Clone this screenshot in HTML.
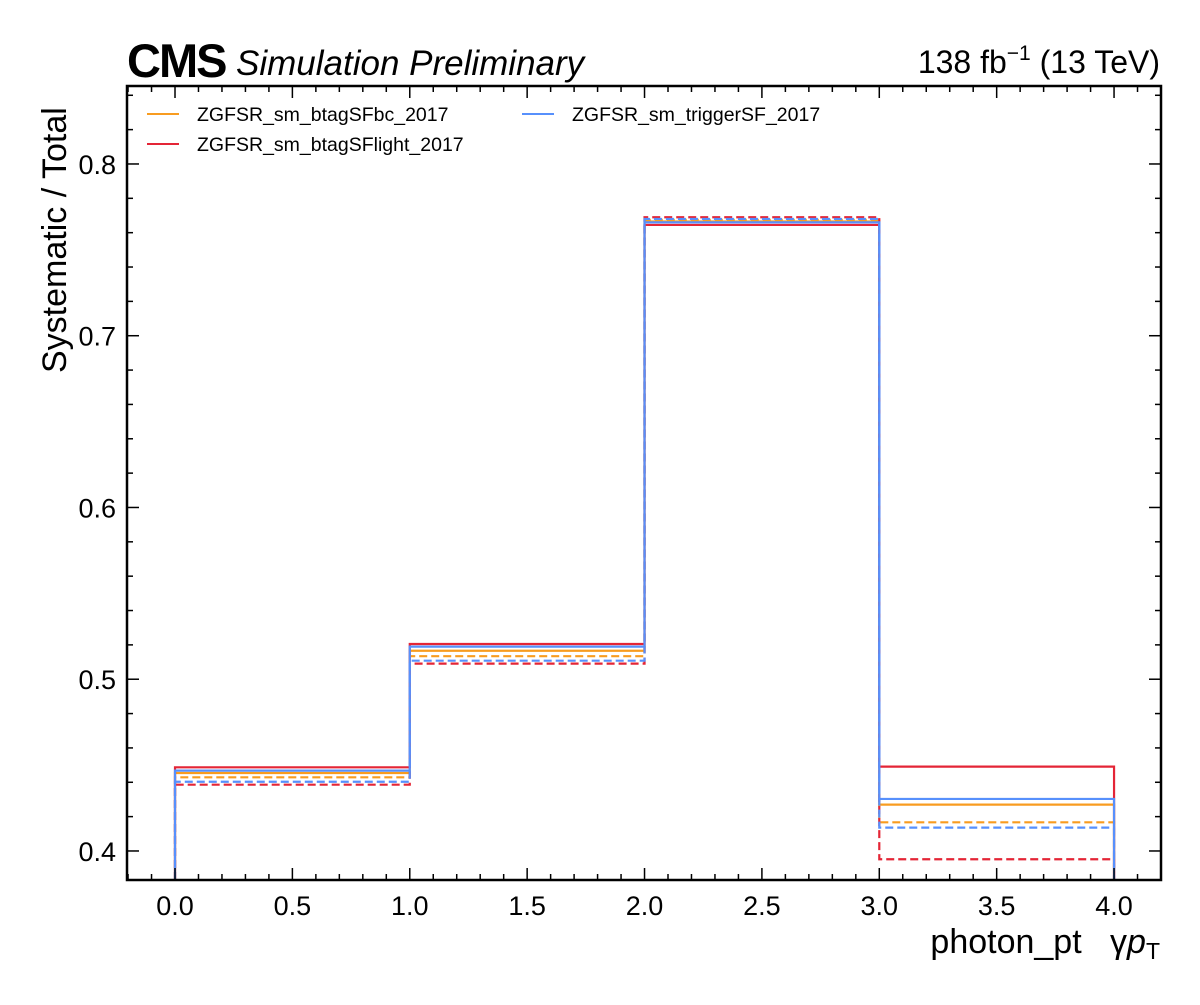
<!DOCTYPE html>
<html><head><meta charset="utf-8"><style>
body{margin:0;background:#fff}
svg text{font-family:"Liberation Sans",sans-serif}
</style></head><body>
<svg id="chart" width="1200" height="1000" viewBox="0 0 1200 1000" xmlns="http://www.w3.org/2000/svg">
<rect width="1200" height="1000" fill="#fff"/>
<g id="marks"></g>
<g id="ticks"></g>
<rect x="127" y="86" width="1034" height="794" fill="none" stroke="#000" stroke-width="2.5"/>
<text x="127" y="77" font-size="47" font-weight="bold" letter-spacing="-2">CMS</text>
<text x="236" y="75" font-size="35" font-style="italic">Simulation Preliminary</text>
<text x="1160" y="73" font-size="32" text-anchor="end">138 fb<tspan font-size="21" dy="-13">−1</tspan><tspan dy="13"> (13 TeV)</tspan></text>
<text transform="translate(66,373) rotate(-90)" font-size="34" text-anchor="start">Systematic / Total</text>
<text x="1160" y="953" font-size="34" text-anchor="end" xml:space="preserve" style="white-space:pre">photon_pt   γ<tspan font-style="italic">p</tspan><tspan font-size="23" dy="6">T</tspan></text>
<g font-size="19.5">
<line x1="147" y1="114" x2="179" y2="114" stroke="#f89c20" stroke-width="2"/>
<text x="197" y="121">ZGFSR_sm_btagSFbc_2017</text>
<line x1="147" y1="144" x2="179" y2="144" stroke="#e42536" stroke-width="2"/>
<text x="197" y="151">ZGFSR_sm_btagSFlight_2017</text>
<line x1="522" y1="114" x2="554" y2="114" stroke="#5790fc" stroke-width="2"/>
<text x="572" y="121">ZGFSR_sm_triggerSF_2017</text>
</g>
</svg>
<script>
const binEdges=[0,1,2,3,4];
const btagSFbcUp=[0.4454,0.5166,0.7665,0.4270];
const btagSFbcDown=[0.4429,0.5134,0.7675,0.4167];
const btagSFlightUp=[0.4487,0.5205,0.7645,0.4491];
const btagSFlightDown=[0.4386,0.5091,0.7690,0.3952];
const triggerSFUp=[0.4468,0.5190,0.7660,0.4303];
const triggerSFDown=[0.4403,0.5108,0.7680,0.4136];
const xTicks=[0,0.5,1,1.5,2,2.5,3,3.5,4];
const yTicks=[0.4,0.5,0.6,0.7,0.8];
const xMin=-0.2045,xMax=4.2,yMin=0.3831,yMax=0.8454;
const L=127,R=1161,T=86,B=880;
const X=v=>L+(v-xMin)/(xMax-xMin)*(R-L);
const Y=v=>B-(v-yMin)/(yMax-yMin)*(B-T);
const NS='http://www.w3.org/2000/svg';
const marks=document.getElementById('marks'),ticks=document.getElementById('ticks');
const series=[
 ['btagSFbc-up',btagSFbcUp,'#f89c20',''],['btagSFbc-down',btagSFbcDown,'#f89c20','8,4'],
 ['btagSFlight-up',btagSFlightUp,'#e42536',''],['btagSFlight-down',btagSFlightDown,'#e42536','8,4'],
 ['triggerSF-up',triggerSFUp,'#5790fc',''],['triggerSF-down',triggerSFDown,'#5790fc','8,4']];
series.forEach(([n,vals,c,d])=>{
 let p='M'+X(binEdges[0])+','+B;
 vals.forEach((v,i)=>{p+=' L'+X(binEdges[i])+','+Y(v)+' L'+X(binEdges[i+1])+','+Y(v);});
 p+=' L'+X(binEdges[binEdges.length-1])+','+B;
 const e=document.createElementNS(NS,'path');
 e.setAttribute('d',p);e.setAttribute('fill','none');e.setAttribute('stroke',c);e.setAttribute('stroke-width','2.2');
 if(d)e.setAttribute('stroke-dasharray',d);
 
 
 marks.appendChild(e);
});
function ln(x1,y1,x2,y2){const e=document.createElementNS(NS,'line');e.setAttribute('x1',x1);e.setAttribute('y1',y1);e.setAttribute('x2',x2);e.setAttribute('y2',y2);e.setAttribute('stroke','#000');e.setAttribute('stroke-width','1.5');
 
 
 ticks.appendChild(e);}
function tx(x,y,s,a){const e=document.createElementNS(NS,'text');e.setAttribute('x',x);e.setAttribute('y',y);e.setAttribute('font-size','27');e.setAttribute('text-anchor',a);e.textContent=s;
 
 
 ticks.appendChild(e);}
for(let i=-2;i<=42;i++){const v=i/10,x=X(v);if(x<L||x>R)continue;const maj=i%5===0;const h=maj?12:6;ln(x,B,x,B-h);ln(x,T,x,T+h);}
xTicks.forEach(v=>tx(X(v),915,v.toFixed(1),'middle'));
for(let i=38;i<=84;i+=2){const v=i/100,y=Y(v);if(y<T||y>B)continue;const maj=i%10===0;const h=maj?12:6;ln(L,y,L+h,y);ln(R,y,R-h,y);}
yTicks.forEach(v=>tx(116,Y(v)+10,v.toFixed(1),'end'));
</script>
</body></html>
